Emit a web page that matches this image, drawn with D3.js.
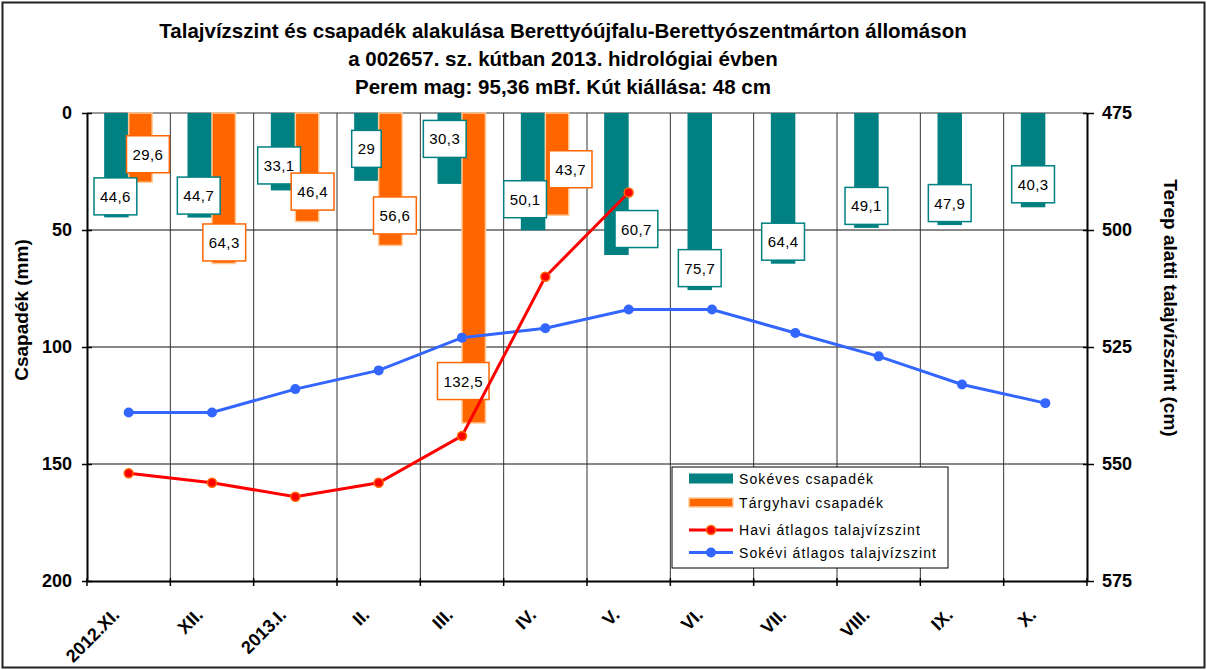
<!DOCTYPE html>
<html>
<head>
<meta charset="utf-8">
<script src="https://cdn.jsdelivr.net/npm/d3@7"></script>
<style>
  html, body { margin: 0; padding: 0; background: #fff; }
  svg { display: block; font-family: "Liberation Sans", Arial, sans-serif; }
</style>
</head>
<body>
<svg id="chart" width="1207" height="670"></svg>
<script>
// ---- data ----
const months = ["2012.XI.", "XII.", "2013.I.", "II.", "III.", "IV.", "V.", "VI.", "VII.", "VIII.", "IX.", "X."];
const longTermPrecip = [44.6, 44.7, 33.1, 29, 30.3, 50.1, 60.7, 75.7, 64.4, 49.1, 47.9, 40.3];
const monthlyPrecip = [29.6, 64.3, 46.4, 56.6, 132.5, 43.7, null, null, null, null, null, null];
const monthlyLevel = [552, 554, 557, 554, 544, 510, 492, null, null, null, null, null];
const longTermLevel = [539, 539, 534, 530, 523, 521, 517, 517, 522, 527, 533, 537];
const leftTicks = [0, 50, 100, 150, 200];
const rightTicks = [475, 500, 525, 550, 575];
const titleLines = [
  "Talajvízszint és csapadék alakulása Berettyóújfalu-Berettyószentmárton állomáson",
  "a 002657. sz. kútban 2013. hidrológiai évben",
  "Perem mag: 95,36 mBf. Kút kiállása: 48 cm"
];
const legendItems = ["Sokéves csapadék", "Tárgyhavi csapadék", "Havi átlagos talajvízszint", "Sokévi átlagos talajvízszint"];

// label layout nudges (manual label placement in the original)
const ltLabelDx = [-1, -1, -4, 0, -5, -8, 20, 0, 0, 0, 0, 0];
const ltLabelDy = [-21, -22, -25, -32, -45, -31, -26, -22, -22, -22, -22, -23];
const mLabelDx = [7, 0, 5, 4, -11, 13];
const mLabelDy = [-28, -21, -30, -30, -42, -46];

// ---- styles ----
const TEAL = "#008080", ORANGE = "#FF6600", ORANGE_EDGE = "#FFCC99";
const RED = "#FF0000", BLUE = "#3366FF";
const FONT = '"Liberation Sans", Arial, sans-serif';

const svg = d3.select("#chart");
const W = 1207, H = 670;
const plot = { left: 87, right: 1087, top: 113, bottom: 581 };

// outer frame
svg.append("rect").attr("x", 2.5).attr("y", 2.5).attr("width", W - 5).attr("height", H - 5)
  .attr("fill", "#fff").attr("stroke", "#222").attr("stroke-width", 2);

const x = d3.scaleBand().domain(months).range([plot.left, plot.right]);
const bw = x.bandwidth();
const x1 = d3.scaleBand().domain(["lt", "m"]).range([bw / 2 - 24.5, bw / 2 + 24.5]);
const yL = d3.scaleLinear().domain([0, 200]).range([plot.top, plot.bottom]);
const yR = d3.scaleLinear().domain([475, 575]).range([plot.top, plot.bottom]);
const cx = m => x(m) + bw / 2;

// gridlines
const grid = svg.append("g");
grid.selectAll("line.h").data(leftTicks.filter(t => t > 0 && t < 200)).join("line")
  .attr("x1", plot.left).attr("x2", plot.right).attr("y1", d => yL(d)).attr("y2", d => yL(d))
  .attr("stroke", "#111").attr("stroke-width", 1);
grid.append("line").attr("x1", plot.left).attr("x2", plot.right).attr("y1", yL(0)).attr("y2", yL(0))
  .attr("stroke", "#999").attr("stroke-width", 2);
grid.selectAll("line.v").data(months.slice(1)).join("line")
  .attr("x1", d => x(d)).attr("x2", d => x(d)).attr("y1", plot.top).attr("y2", plot.bottom)
  .attr("stroke", "#333").attr("stroke-width", 1);

// bars
const bars = svg.append("g");
bars.selectAll("rect.lt").data(months).join("rect")
  .attr("x", (d) => x(d) + x1("lt"))
  .attr("width", x1.bandwidth())
  .attr("y", yL(0))
  .attr("height", (d, i) => yL(longTermPrecip[i]) - yL(0))
  .attr("fill", TEAL);
bars.selectAll("rect.m").data(months.filter((d, i) => monthlyPrecip[i] != null)).join("rect")
  .attr("x", (d) => x(d) + x1("m"))
  .attr("width", x1.bandwidth() - 1)
  .attr("y", yL(0))
  .attr("height", (d, i) => yL(monthlyPrecip[i]) - yL(0))
  .attr("fill", ORANGE).attr("stroke", ORANGE_EDGE).attr("stroke-width", 1.5);

// axes
const axisG = svg.append("g");
const leftAxis = d3.axisLeft(yL).tickValues(leftTicks).tickSizeInner(5).tickSizeOuter(0).tickPadding(10);
const gl = axisG.append("g").attr("transform", `translate(${plot.left},0)`).call(leftAxis);
const rightAxis = d3.axisRight(yR).tickValues(rightTicks).tickSizeInner(7).tickSizeOuter(0).tickPadding(8);
const gr = axisG.append("g").attr("transform", `translate(${plot.right},0)`).call(rightAxis);
const bottomAxis = d3.axisBottom(x).tickValues([]).tickSizeOuter(0);
const gb = axisG.append("g").attr("transform", `translate(0,${plot.bottom})`).call(bottomAxis);
[gl, gr, gb].forEach(g => {
  g.select(".domain").attr("stroke", "#000").attr("stroke-width", 2);
  g.selectAll(".tick line").attr("stroke", "#000").attr("stroke-width", 1.5);
  g.selectAll(".tick text").attr("fill", "#000").attr("font-size", 18).attr("font-weight", "bold").attr("font-family", FONT);
});
gl.selectAll(".tick line").attr("x1", 5);
gr.selectAll(".tick line").attr("x1", -4);
// bottom ticks at band boundaries
gb.selectAll("line.bt").data(months.concat(["end"])).join("line")
  .attr("x1", (d, i) => i < months.length ? x(d) : plot.right)
  .attr("x2", (d, i) => i < months.length ? x(d) : plot.right)
  .attr("y1", -3).attr("y2", 5).attr("stroke", "#000").attr("stroke-width", 1.5);
// category labels rotated
svg.append("g").selectAll("text").data(months).join("text")
  .attr("transform", d => `translate(${cx(d) - 8},${616}) rotate(-45)`)
  .attr("text-anchor", "end")
  .attr("font-size", 18).attr("font-weight", "bold").attr("font-family", FONT)
  .text(d => d);

// axis titles
svg.append("text").attr("transform", `translate(${28},${310}) rotate(-90)`)
  .attr("text-anchor", "middle").attr("font-size", 19).attr("font-weight", "bold").text("Csapadék (mm)");
svg.append("text").attr("transform", `translate(${1164},${308}) rotate(90)`)
  .attr("text-anchor", "middle").attr("font-size", 19).attr("font-weight", "bold").text("Terep alatti talajvízszint (cm)");

// title
svg.append("g").selectAll("text").data(titleLines).join("text")
  .attr("x", 563).attr("y", (d, i) => 38 + i * 28)
  .attr("text-anchor", "middle").attr("font-size", 20.5).attr("font-weight", "bold").text(d => d);

// data labels
function labelBox(g, cxv, cyv, txt, color) {
  const t = g.append("text").attr("x", cxv).attr("y", cyv).attr("text-anchor", "middle")
    .attr("dominant-baseline", "central").attr("font-size", 15).attr("letter-spacing", 0.4).text(txt);
  const w = t.node().getComputedTextLength() + 12;
  g.insert("rect", "text:last-child").attr("x", cxv - w / 2).attr("y", cyv - 18.5).attr("width", w).attr("height", 37)
    .attr("fill", "#fff").attr("stroke", color).attr("stroke-width", 1.5);
}
const fmt = v => String(v).replace(".", ",");
const labels = svg.append("g");
months.forEach((m, i) => {
  const g = labels.append("g");
  labelBox(g, x(m) + x1("lt") + x1.bandwidth() / 2 + ltLabelDx[i], yL(longTermPrecip[i]) + ltLabelDy[i], fmt(longTermPrecip[i]), TEAL);
});
months.forEach((m, i) => {
  if (monthlyPrecip[i] == null) return;
  const g = labels.append("g");
  labelBox(g, x(m) + x1("m") + x1.bandwidth() / 2 + mLabelDx[i], yL(monthlyPrecip[i]) + mLabelDy[i], fmt(monthlyPrecip[i]), ORANGE);
});

// lines
const lineGen = d3.line().defined(d => d.v != null).x(d => cx(d.m)).y(d => yR(d.v));
const ltData = months.map((m, i) => ({ m, v: longTermLevel[i] }));
const mData = months.map((m, i) => ({ m, v: monthlyLevel[i] })).filter(d => d.v != null);
svg.append("path").datum(ltData).attr("d", lineGen).attr("fill", "none").attr("stroke", BLUE).attr("stroke-width", 3);
svg.append("g").selectAll("circle").data(ltData).join("circle")
  .attr("cx", d => cx(d.m)).attr("cy", d => yR(d.v)).attr("r", 5).attr("fill", BLUE);
svg.append("path").datum(mData).attr("d", lineGen).attr("fill", "none").attr("stroke", RED).attr("stroke-width", 3);
svg.append("g").selectAll("circle").data(mData).join("circle")
  .attr("cx", d => cx(d.m)).attr("cy", d => yR(d.v)).attr("r", 4.5).attr("fill", RED).attr("stroke", ORANGE).attr("stroke-width", 1.5);

// legend
const lg = svg.append("g").attr("transform", "translate(672,467)");
lg.append("rect").attr("width", 276).attr("height", 101).attr("fill", "#fff").attr("stroke", "#000").attr("stroke-width", 1);
const rowY = [11.5, 35.5, 63, 85.5];
lg.append("rect").attr("x", 17).attr("y", rowY[0] - 5).attr("width", 44).attr("height", 10).attr("fill", TEAL);
lg.append("rect").attr("x", 17).attr("y", rowY[1] - 4.5).attr("width", 44).attr("height", 9).attr("fill", ORANGE).attr("stroke", ORANGE_EDGE).attr("stroke-width", 1.5);
lg.append("line").attr("x1", 17).attr("x2", 61).attr("y1", rowY[2]).attr("y2", rowY[2]).attr("stroke", RED).attr("stroke-width", 3);
lg.append("circle").attr("cx", 39).attr("cy", rowY[2]).attr("r", 4.5).attr("fill", RED).attr("stroke", ORANGE).attr("stroke-width", 1.5);
lg.append("line").attr("x1", 17).attr("x2", 61).attr("y1", rowY[3]).attr("y2", rowY[3]).attr("stroke", BLUE).attr("stroke-width", 3);
lg.append("circle").attr("cx", 39).attr("cy", rowY[3]).attr("r", 5).attr("fill", BLUE);
lg.selectAll("text").data(legendItems).join("text")
  .attr("x", 67).attr("y", (d, i) => rowY[i]).attr("dominant-baseline", "central")
  .attr("font-size", 14).attr("letter-spacing", 1.1).text(d => d);
</script>
</body>
</html>
